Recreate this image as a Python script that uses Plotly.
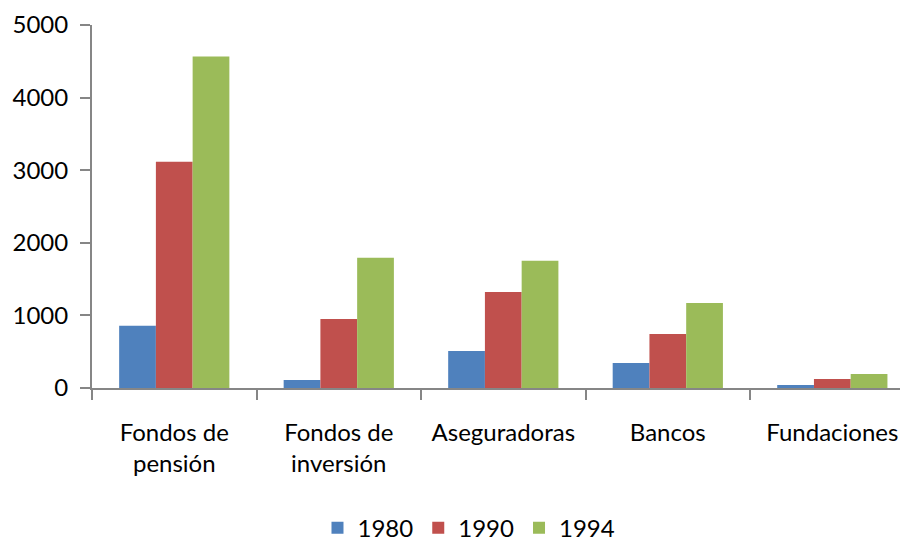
import plotly.graph_objects as go

categories = ["Fondos de<br>pensión", "Fondos de<br>inversión", "Aseguradoras", "Bancos", "Fundaciones"]
years = ["1980", "1990", "1994"]
v1980 = [858, 110, 510, 345, 41]
v1990 = [3117, 952, 1324, 745, 124]
v1994 = [4566, 1793, 1752, 1172, 193]
colors = ["#4F81BD", "#C0504D", "#9BBB59"]
y_ticks = [0, 1000, 2000, 3000, 4000, 5000]

fig = go.Figure()
for name, vals, c in zip(years, [v1980, v1990, v1994], colors):
    fig.add_trace(go.Bar(x=categories, y=vals, name=name, marker=dict(color=c, line=dict(width=0))))

font = "Lato, sans-serif"
# the page body has an 8px margin, so the figure is 900x535 offset by 8px
fig.update_layout(
    width=900, height=535,
    margin=dict(l=84, r=0, t=17, b=155, autoexpand=False),
    plot_bgcolor="white", paper_bgcolor="white",
    barmode="group", bargap=0.33, bargroupgap=0,
    font=dict(family=font, size=24, color="#000000"),
    showlegend=True,
    legend=dict(orientation="h", x=0.462, xanchor="center", y=-0.386, yanchor="middle",
                itemwidth=30, font=dict(size=24),
                traceorder="normal", tracegroupgap=0),
)
fig.update_xaxes(
    type="category", range=[-0.5, 4.46], automargin=False,
    showline=True, linecolor="#868686", linewidth=2,
    ticks="outside", ticklen=10, tickcolor="#868686", tickwidth=2,
    tickson="boundaries", showgrid=False, ticklabelstandoff=22,
)
fig.update_yaxes(
    range=[0, 5000], tickvals=y_ticks, automargin=False,
    showline=True, linecolor="#868686", linewidth=2,
    ticks="outside", ticklen=10, tickcolor="#868686", tickwidth=2,
    showgrid=False, zeroline=False, ticklabelstandoff=7,
)
fig.write_html("out.html")
